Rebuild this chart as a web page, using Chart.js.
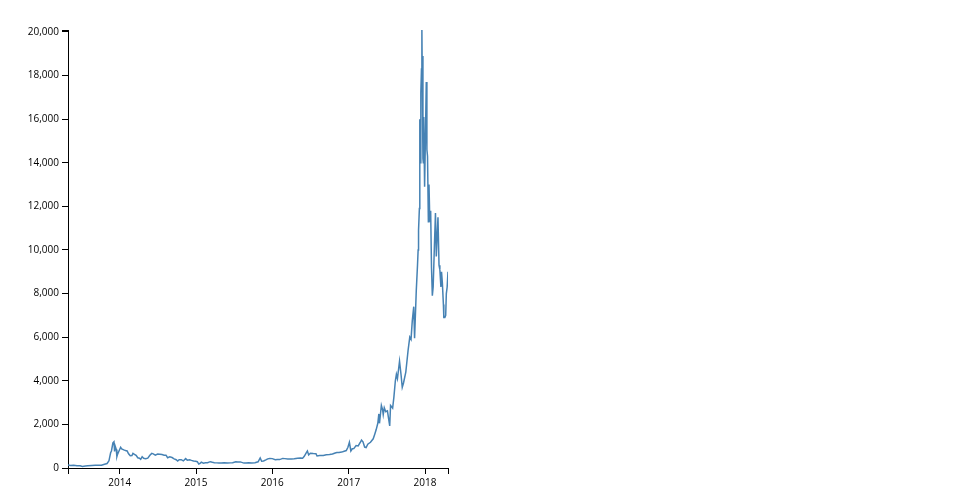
<!DOCTYPE html>
<html>
<head>
<meta charset="utf-8">
<title>Price</title>
<script src="https://cdn.jsdelivr.net/npm/chart.js@4.4.1/dist/chart.umd.min.js"></script>
<style>
    html, body { margin: 0; padding: 0; background: #fff; }
    #wrap { width: 960px; height: 500px; }
</style>
</head>
<body>
<div id="wrap"><canvas id="chart" width="960" height="500"></canvas></div>
<script>
// values (daily high-ish), sparse sampling
const dates = [
    '2013-04-28','2013-05-10','2013-05-25','2013-06-10','2013-06-25','2013-07-06','2013-07-20','2013-08-01','2013-08-20','2013-09-05',
    '2013-09-25','2013-10-05','2013-10-20','2013-11-01','2013-11-10','2013-11-18','2013-11-22','2013-11-29','2013-12-04','2013-12-07',
    '2013-12-10','2013-12-15','2013-12-18','2013-12-22','2013-12-27','2014-01-05','2014-01-10','2014-01-20','2014-01-28','2014-02-05',
    '2014-02-12','2014-02-20','2014-02-28','2014-03-05','2014-03-12','2014-03-20','2014-03-28','2014-04-05','2014-04-11','2014-04-18',
    '2014-04-25','2014-05-05','2014-05-15','2014-05-25','2014-06-03','2014-06-10','2014-06-20','2014-07-01','2014-07-12','2014-07-22',
    '2014-08-01','2014-08-10','2014-08-18','2014-08-28','2014-09-08','2014-09-18','2014-09-28','2014-10-05','2014-10-12','2014-10-22',
    '2014-11-01','2014-11-12','2014-11-20','2014-12-01','2014-12-10','2014-12-20','2014-12-30','2015-01-07','2015-01-14','2015-01-20',
    '2015-01-26','2015-02-05','2015-02-15','2015-02-25','2015-03-10','2015-03-20','2015-03-30','2015-04-10','2015-04-20','2015-05-01',
    '2015-05-15','2015-06-01','2015-06-15','2015-06-25','2015-07-10','2015-07-20','2015-08-01','2015-08-18','2015-08-28','2015-09-10',
    '2015-09-25','2015-10-10','2015-10-25','2015-11-04','2015-11-11','2015-11-20','2015-12-01','2015-12-10','2015-12-20','2016-01-01',
    '2016-01-15','2016-01-25','2016-02-05','2016-02-20','2016-03-01','2016-03-15','2016-04-01','2016-04-15','2016-05-01','2016-05-15',
    '2016-05-25','2016-06-02','2016-06-12','2016-06-17','2016-06-23','2016-07-01','2016-07-15','2016-07-28','2016-08-02','2016-08-15',
    '2016-09-01','2016-09-15','2016-10-01','2016-10-15','2016-10-28','2016-11-05','2016-11-15','2016-11-28','2016-12-10','2016-12-20',
    '2016-12-28','2017-01-04','2017-01-11','2017-01-18','2017-01-25','2017-02-05','2017-02-15','2017-02-25','2017-03-03','2017-03-10',
    '2017-03-18','2017-03-25','2017-04-02','2017-04-15','2017-04-28','2017-05-05','2017-05-12','2017-05-20','2017-05-25','2017-05-28',
    '2017-06-06','2017-06-12','2017-06-15','2017-06-20','2017-06-27','2017-07-05','2017-07-16','2017-07-20','2017-07-30','2017-08-05',
    '2017-08-12','2017-08-17','2017-08-22','2017-09-01','2017-09-08','2017-09-14','2017-09-20','2017-10-01','2017-10-12','2017-10-20',
    '2017-10-26','2017-11-01','2017-11-08','2017-11-12','2017-11-20','2017-11-26','2017-11-29','2017-12-01','2017-12-05','2017-12-07',
    '2017-12-10','2017-12-12','2017-12-15','2017-12-17','2017-12-18','2017-12-22','2017-12-24','2017-12-26','2017-12-30','2018-01-03',
    '2018-01-07','2018-01-10','2018-01-13','2018-01-17','2018-01-20','2018-01-24','2018-01-28','2018-02-01','2018-02-05','2018-02-09',
    '2018-02-15','2018-02-20','2018-02-24','2018-03-04','2018-03-09','2018-03-13','2018-03-18','2018-03-21','2018-03-25','2018-03-30',
    '2018-04-01','2018-04-06','2018-04-10','2018-04-13','2018-04-17','2018-04-21'
];
const prices = [
    135, 115, 130, 105, 100, 70, 90, 105, 120, 125,
    125, 125, 175, 205, 330, 700, 780, 1150, 1200, 760,
    1000, 850, 520, 650, 760, 950, 880, 830, 800, 780,
    650, 560, 570, 670, 630, 580, 470, 450, 400, 520,
    450, 430, 450, 580, 670, 650, 590, 640, 630, 620,
    590, 590, 470, 510, 480, 420, 380, 320, 380, 380,
    325, 430, 360, 380, 350, 320, 310, 290, 180, 210,
    270, 220, 240, 240, 290, 260, 245, 235, 225, 235,
    237, 225, 235, 245, 290, 275, 280, 225, 230, 240,
    235, 245, 285, 460, 310, 325, 370, 420, 440, 430,
    380, 395, 385, 440, 430, 415, 415, 425, 450, 455,
    450, 535, 700, 780, 600, 680, 665, 655, 550, 570,
    575, 610, 615, 640, 690, 710, 715, 730, 770, 800,
    950, 1180, 780, 880, 890, 1030, 1010, 1170, 1280, 1200,
    960, 940, 1090, 1180, 1340, 1540, 1750, 2050, 2480, 2050,
    2870, 2660, 2450, 2760, 2580, 2620, 1930, 2870, 2750, 3250,
    4000, 4300, 4100, 4900, 4300, 3700, 3900, 4400, 5400, 6000,
    5900, 6750, 7400, 5950, 8100, 9300, 10000, 10900, 11900, 16000,
    14000, 17200, 18300, 20089, 18900, 14200, 14000, 16100, 12900, 15200,
    17700, 14600, 14300, 11300, 13000, 11300, 11800, 9200, 7900, 8300,
    10200, 11700, 9700, 11500, 9300, 9100, 8300, 9000, 8500, 7500,
    6900, 6900, 7000, 8000, 8300, 9000
];
const yearTicks = [2014, 2015, 2016, 2017, 2018];
const priceTicks = [0, 2000, 4000, 6000, 8000, 10000, 12000, 14000, 16000, 18000, 20000];

const points = dates.map((d, i) => ({x: Date.parse(d), y: prices[i]}));
const xMin = points[0].x;
const xMax = points[points.length - 1].x;
const yMax = Math.max(...prices);

const axisFont = {family: '"Open Sans", "Noto Sans", sans-serif', size: 10};

new Chart(document.getElementById('chart').getContext('2d'), {
    type: 'line',
    data: {
        datasets: [{
            data: points,
            borderColor: 'steelblue',
            borderWidth: 1.5,
            pointRadius: 0,
            fill: false,
            tension: 0
        }]
    },
    options: {
        responsive: false,
        animation: false,
        layout: {padding: {left: 0, top: 30, right: 512, bottom: 0}},
        plugins: {legend: {display: false}, tooltip: {enabled: false}},
        scales: {
            x: {
                type: 'linear',
                min: xMin,
                max: xMax,
                afterBuildTicks: axis => {
                    // outer ticks at both ends, like a d3 axis
                    axis.ticks = [{value: xMin}]
                        .concat(yearTicks.map(y => ({value: Date.UTC(y, 0, 1)})))
                        .concat([{value: xMax}]);
                },
                afterFit: axis => { axis.height = 32; },
                ticks: {
                    autoSkip: false,
                    maxRotation: 0,
                    padding: 3,
                    color: '#000',
                    font: axisFont,
                    callback: v => {
                        const d = new Date(v);
                        return (d.getUTCMonth() === 0 && d.getUTCDate() === 1) ? String(d.getUTCFullYear()) : '';
                    }
                },
                grid: {drawOnChartArea: false, drawTicks: true, tickLength: 6, color: '#000', lineWidth: 1},
                border: {display: true, color: '#000', width: 1}
            },
            y: {
                type: 'linear',
                min: 0,
                max: yMax,
                afterBuildTicks: axis => {
                    axis.ticks = priceTicks.map(v => ({value: v})).concat([{value: yMax}]);
                },
                afterFit: axis => { axis.width = 68; },
                ticks: {
                    autoSkip: false,
                    padding: 3,
                    color: '#000',
                    font: axisFont,
                    callback: v => priceTicks.includes(v) ? v.toLocaleString('en-US') : ''
                },
                grid: {drawOnChartArea: false, drawTicks: true, tickLength: 6, color: '#000', lineWidth: 1},
                border: {display: true, color: '#000', width: 1}
            }
        }
    }
});
</script>
</body>
</html>
